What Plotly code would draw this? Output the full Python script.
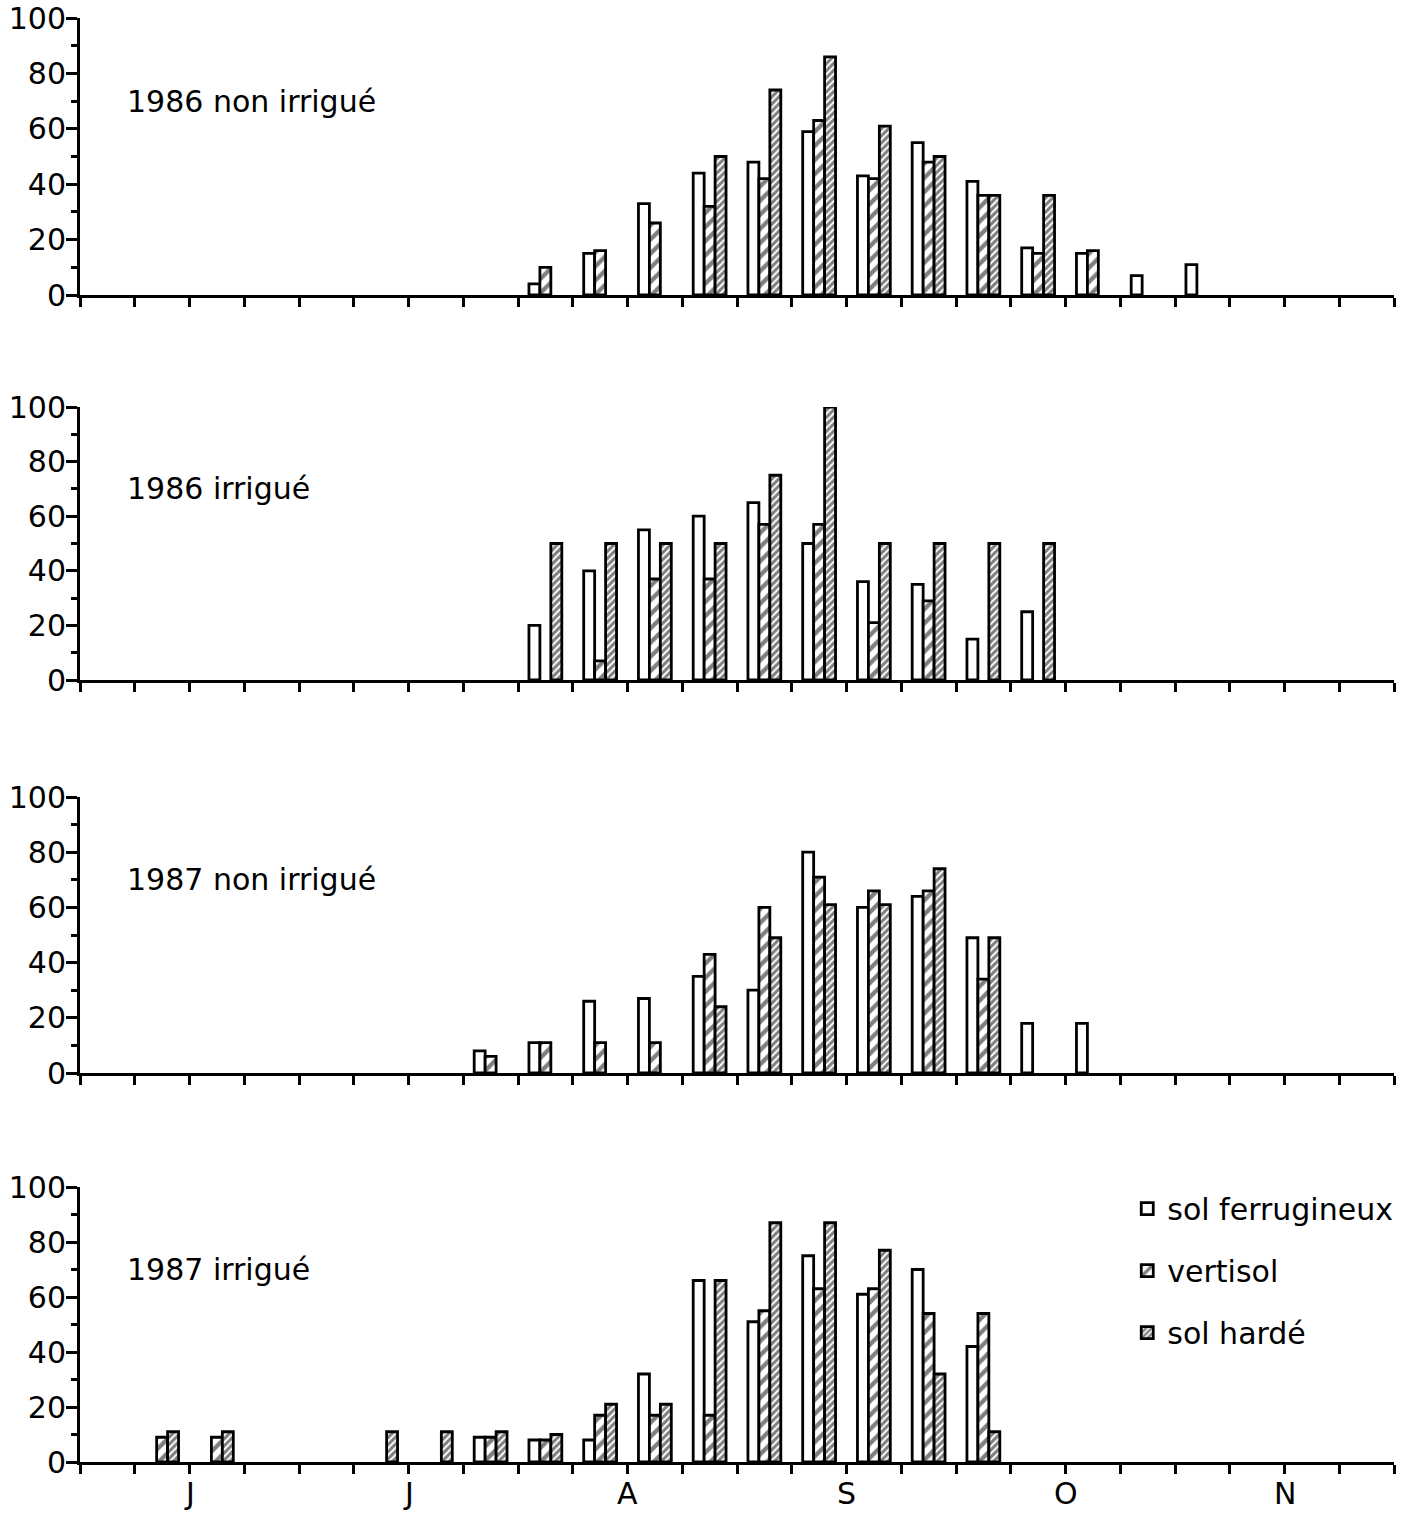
import plotly.graph_objects as go

# ---------------- data ----------------
# 24 quarter-month periods from June to November; bars centred in each period
periods = [i + 0.5 for i in range(24)]
month_labels = ["J", "J", "A", "S", "O", "N"]
month_centers = [2, 6, 10, 14, 18, 22]
month_bounds = [0, 4, 8, 12, 16, 20, 24]
series_names = ["sol ferrugineux", "vertisol", "sol hardé"]
panel_titles = ["1986 non irrigué", "1986 irrigué", "1987 non irrigué", "1987 irrigué"]

N = None
ferr_1986_ni = [N, N, N, N, N, N, N, N, 4, 15, 33, 44, 48, 59, 43, 55, 41, 17, 15, 7, 11, N, N, N]
vert_1986_ni = [N, N, N, N, N, N, N, N, 10, 16, 26, 32, 42, 63, 42, 48, 36, 15, 16, N, N, N, N, N]
hard_1986_ni = [N, N, N, N, N, N, N, N, N, N, N, 50, 74, 86, 61, 50, 36, 36, N, N, N, N, N, N]

ferr_1986_ir = [N, N, N, N, N, N, N, N, 20, 40, 55, 60, 65, 50, 36, 35, 15, 25, N, N, N, N, N, N]
vert_1986_ir = [N, N, N, N, N, N, N, N, N, 7, 37, 37, 57, 57, 21, 29, N, N, N, N, N, N, N, N]
hard_1986_ir = [N, N, N, N, N, N, N, N, 50, 50, 50, 50, 75, 100, 50, 50, 50, 50, N, N, N, N, N, N]

ferr_1987_ni = [N, N, N, N, N, N, N, 8, 11, 26, 27, 35, 30, 80, 60, 64, 49, 18, 18, N, N, N, N, N]
vert_1987_ni = [N, N, N, N, N, N, N, 6, 11, 11, 11, 43, 60, 71, 66, 66, 34, N, N, N, N, N, N, N]
hard_1987_ni = [N, N, N, N, N, N, N, N, N, N, N, 24, 49, 61, 61, 74, 49, N, N, N, N, N, N, N]

ferr_1987_ir = [N, N, N, N, N, N, N, 9, 8, 8, 32, 66, 51, 75, 61, 70, 42, N, N, N, N, N, N, N]
vert_1987_ir = [N, 9, 9, N, N, N, N, 9, 8, 17, 17, 17, 55, 63, 63, 54, 54, N, N, N, N, N, N, N]
hard_1987_ir = [N, 11, 11, N, N, 11, 11, 11, 10, 21, 21, 66, 87, 87, 77, 32, 11, N, N, N, N, N, N, N]

panels = [
    (ferr_1986_ni, vert_1986_ni, hard_1986_ni),
    (ferr_1986_ir, vert_1986_ir, hard_1986_ir),
    (ferr_1987_ni, vert_1987_ni, hard_1987_ni),
    (ferr_1987_ir, vert_1987_ir, hard_1987_ir),
]

# ---------------- styles ----------------
FONT = "DejaVu Sans"
patterns = [
    dict(shape=""),
    dict(shape="/", fgcolor="black", bgcolor="white", size=10, solidity=0.42, fillmode="overlay"),
    dict(shape="/", fgcolor="black", bgcolor="white", size=5, solidity=0.6, fillmode="overlay"),
]

W, H = 1406, 1514
mt, mb, ml, mr = 18, 52, 80, 12
ph = H - mt - mb
# panel pixel extents (top, bottom) measured from page top
panel_px = [(18, 295), (407, 680), (797, 1073), (1187, 1462)]
domains = [[(H - mb - b) / ph, (H - mb - t) / ph] for t, b in panel_px]

fig = go.Figure()
for p, vals in enumerate(panels):
    ax = "" if p == 0 else str(p + 1)
    for s in range(3):
        fig.add_trace(go.Bar(
            x=periods, y=vals[s], name=series_names[s],
            xaxis="x" + ax, yaxis="y" + ax,
            offsetgroup=str(s), legendgroup=str(s),
            showlegend=(p == 3),
            marker=dict(color="white", line=dict(color="black", width=2.8),
                        pattern=patterns[s]),
        ))

layout = dict(
    width=W, height=H,
    margin=dict(l=ml, r=mr, t=mt, b=mb, autoexpand=False),
    paper_bgcolor="white", plot_bgcolor="white",
    barmode="group", bargap=0.4, bargroupgap=0,
    font=dict(family=FONT, size=30, color="black"),
    legend=dict(x=0.797, y=domains[3][1] + 0.003, xanchor="left", yanchor="top",
                font=dict(size=30, family=FONT), tracegroupgap=20,
                bgcolor="rgba(0,0,0,0)", itemwidth=30),
    annotations=[],
)
for p in range(4):
    ax = "" if p == 0 else str(p + 1)
    layout["xaxis" + ax] = dict(
        domain=[0, 1], range=[0, 24], anchor="y" + ax, automargin=False,
        showline=True, linecolor="black", linewidth=3,
        tickmode="array", tickvals=month_bounds, ticktext=[""] * 7,
        ticks="outside", ticklen=18, tickwidth=3, tickcolor="black",
        minor=dict(dtick=1, ticks="outside", ticklen=9, tickwidth=2.5, tickcolor="black"),
        showticklabels=False, showgrid=False, zeroline=False, fixedrange=True,
    )
    layout["yaxis" + ax] = dict(
        domain=domains[p], range=[0, 100], anchor="x" + ax, automargin=False,
        showline=True, linecolor="black", linewidth=3,
        tickvals=[0, 20, 40, 60, 80, 100],
        ticks="outside", ticklen=11, tickwidth=3, tickcolor="black",
        ticklabelstandoff=-6,
        minor=dict(dtick=10, ticks="outside", ticklen=6, tickwidth=2.5, tickcolor="black"),
        tickfont=dict(size=30, family=FONT),
        showgrid=False, zeroline=False, fixedrange=True,
    )
    layout["annotations"].append(dict(
        x=0.82, y=70, xref="x" + ax, yref="y" + ax, text=panel_titles[p],
        showarrow=False, xanchor="left", yanchor="middle",
        font=dict(size=30, family=FONT),
    ))

for c, lab in zip(month_centers, month_labels):
    layout["annotations"].append(dict(
        x=c, y=-31 / ph, xref="x4", yref="paper", text=lab, showarrow=False,
        xanchor="center", yanchor="middle", font=dict(size=30, family=FONT),
    ))

fig.update_layout(**layout)
fig.write_html(
    "out.html",
    config={"displayModeBar": False},
    post_script="document.body.style.margin='0px';document.body.style.overflow='hidden';",
)
